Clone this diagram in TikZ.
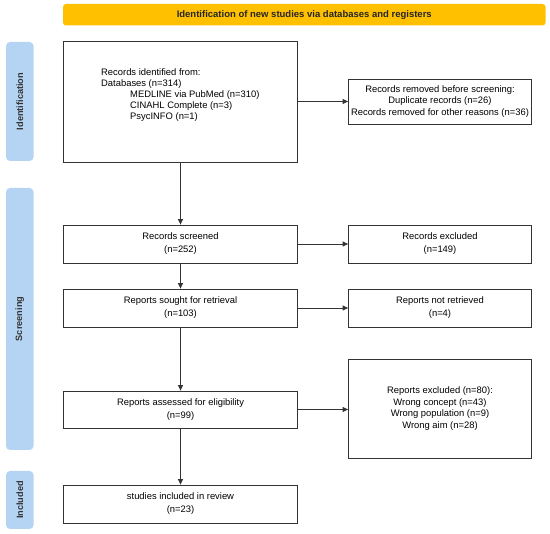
\documentclass[tikz,border=0pt]{standalone}
\usepackage{fontspec}
\setmainfont{Liberation Sans}
\usetikzlibrary{arrows.meta}
\definecolor{banner}{HTML}{FFC000}
\definecolor{side}{HTML}{B5D4F3}
\definecolor{edge}{HTML}{333333}
\tikzset{
  box/.style={draw=edge, line width=0.8pt, rectangle, inner sep=0pt, font=\fontsize{9.4}{11.6}\selectfont, align=center},
  lbox/.style={box, minimum width=234pt},
  rbox/.style={box, minimum width=183pt},
  sidebar/.style={fill=side, rounded corners=4pt, inner sep=0pt, minimum width=27.5pt},
  sidetext/.style={rotate=90, font=\fontsize{9.2}{11}\selectfont\bfseries, text=edge},
  conn/.style={draw=edge, line width=0.8pt, -{Triangle[length=5.5pt,width=5pt]}},
  plain/.style={font=\fontsize{9.4}{11.1}\selectfont, align=left, inner sep=0pt}
}
\begin{document}
\begin{tikzpicture}[x=1pt,y=-1pt]
\useasboundingbox (0,0) rectangle (550,534);
% banner
\node[fill=banner, rounded corners=3pt, minimum width=482.5pt, minimum height=21.5pt, inner sep=0pt,
  font=\fontsize{9.5}{11}\selectfont\bfseries, text=black!85] (banner) at (304.25,14.75) {Identification of new studies via databases and registers};
% side bars
\node[sidebar, minimum height=119pt] (sb1) at (19.75,101.5) {};
\node[sidetext] (sb1t) at (sb1) {Identification};
\node[sidebar, minimum height=262pt] (sb2) at (19.75,319) {};
\node[sidetext] (sb2t) at (sb2) {Screening};
\node[sidebar, minimum height=58pt] (sb3) at (19.75,500) {};
\node[sidetext] (sb3t) at (sb3) {Included};
% left column
\node[lbox, minimum height=121pt] (id) at (180.5,101.5) {};
\node[plain, anchor=north west] (idtext) at (101,68) {Records identified from:\\Databases (n=314)\\
\hspace*{29pt}MEDLINE via PubMed (n=310)\\\hspace*{29pt}CINAHL Complete (n=3)\\\hspace*{29pt}PsycINFO (n=1)};
\node[lbox, minimum height=38pt] (scr) at (180.5,244) {Records screened\\[1.5pt](n=252)};
\node[lbox, minimum height=38pt] (sou) at (180.5,308) {Reports sought for retrieval\\[1.5pt](n=103)};
\node[lbox, minimum height=37pt] (ass) at (180.5,409.5) {Reports assessed for eligibility\\[1.5pt](n=99)};
\node[lbox, minimum height=38pt] (inc) at (180.5,504) {studies included in review\\[1.5pt](n=23)};
% right column
\node[rbox, minimum height=45pt] (rem) at (440,101.5) {Records removed before screening:\\Duplicate records (n=26)\\Records removed for other reasons (n=36)};
\node[rbox, minimum height=38pt] (exc) at (440,244) {Records excluded\\[1.5pt](n=149)};
\node[rbox, minimum height=38pt] (ret) at (440,308) {Reports not retrieved\\[1.5pt](n=4)};
\node[rbox, minimum height=99pt] (rex) at (440,408.5) {Reports excluded (n=80):\\Wrong concept (n=43)\\Wrong population (n=9)\\Wrong aim (n=28)};
% connectors
\draw[conn] (id.south) -- (scr.north);
\draw[conn] (scr.south) -- (sou.north);
\draw[conn] (sou.south) -- (ass.north);
\draw[conn] (ass.south) -- (inc.north);
\draw[conn] (id.east) -- (rem.west);
\draw[conn] (scr.east) -- (exc.west);
\draw[conn] (sou.east) -- (ret.west);
\draw[conn] (ass.east) -- (ass.east -| rex.west);
\end{tikzpicture}
\end{document}
